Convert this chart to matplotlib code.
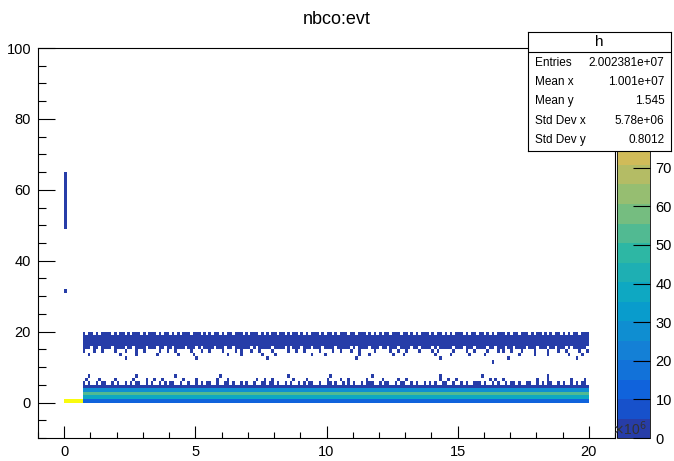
import numpy as np
import matplotlib
matplotlib.use("Agg")
import matplotlib.pyplot as plt
from matplotlib.colors import LinearSegmentedColormap, ListedColormap, BoundaryNorm
from matplotlib.cm import ScalarMappable
from matplotlib.ticker import MultipleLocator

plt.rcParams['font.family'] = ['Liberation Sans', 'DejaVu Sans']

# ---- histogram binning (x in units of 1e6 events, y = nbco) ----
X_MIN, X_MAX, N_XBINS = 0.0, 20.0, 200
Y_MIN, Y_MAX, N_YBINS = -10.0, 100.0, 110

# ---- bin contents ----
# early events (x < 0.7): all entries at nbco = 0
early_x_end = 0.7
early_row = 0
early_value = 101

# main band, x from 0.7 to 20: nbco rows and their counts
band_a_rows = [0, 1, 2, 3, 4]
band_a_values = [15, 40, 55, 30, 4]

# upper band, fully populated rows
band_b_rows = [16, 17, 18]
band_b_value = 4

# sparsely populated rows ('#' = filled bin, one char per x bin)
sparse_rows = {
    19: "......." "#.##.#.###" "#.#.##.#.#" "##.#.###.#" ".##.#.#.##" "#.###.#.#." "##.#.##.##"
        "#.#.###.#." "#.##.##.#." "##.#.#.###" ".#.##.#.##" "#.##.###.#" ".#.#.##.##" "#.##.#.#.#"
        "##.#.##.#." "#.###.#.##" ".##.#.#.##" "#.#.##.###" ".#.##.#.#." "##.#.#.##." "###",
    15: "......." "###.##.###" "#.####.##." "####.###.#" "#.##.####." "###.#.####" ".###.##.##"
        "####.#.###" "##.####.#." "###.###.##" "#.####.###" "##.#.####." "###.##.###" ".####.##.#"
        "###.#.####" "#.###.###." "####.##.##" "#.##.####." "###.###.##" ".###.#.###" "##.",
    14: "......." "#...#..#.." "..#...#..." "#..#.....#" "..#..#...." ".#...#..#." "...#....#."
        "#...#..#.." "..#.....#." ".#..#....." "#....#..#." "..#..#...." ".#.....#.." "#..#....#."
        "...#.#...." ".#....#..#" "....#...#." "#..#...#.." "..#....#.." ".#..#....#" "..#",
    13: "......." "..#......." "....#....." "#.......#." "......#..." "..#......." ".....#...."
        "#.......#." "...#......" ".......#.." "..#......." ".....#...#" "........#." "..#......."
        "....#....." "#......#.." "...#......" "......#..." "..#....#.." ".....#...." "#..",
    12: "......." ".........." "......#..." ".........." ".........." "...#......" ".........."
        ".........." "#........." ".........." ".........." "....#....." ".........." ".........."
        "......#..." ".........." ".........." "..#......." ".........." "........#." "...",
    11: "......." ".........." ".........." ".........." ".........." ".........." ".........."
        ".........." ".........." ".........." ".........." ".........." ".........." ".........."
        ".........." ".........." "......#..." ".........." ".........." ".........." "...",
    7:  "......." "..#......." ".........." "#........." ".....#...." ".........." "..#......."
        ".........." "........#." ".........." "....#....." ".........." "#........." ".........."
        "......#..." ".........." "..#......." ".........." ".......#.." ".........." "...",
    6:  "......." ".#....#..." "..#......#" "....#..#.." "#.......#." "...#......" ".#...#...."
        "......#..#" "..#......." "#....#...." "...#....#." ".#......#." "....#....." "#..#......"
        "......#..#" "..#......." ".....#.#.." "#........." "...#...#.." "......#..." ".#.",
    5:  "......." "#.#..#.##." ".#.#..#.#." "##..#.#..#" ".#.##..#.." "#..#.#.##." ".#..##.#.."
        "#.#..#..##" ".##.#..#.#" "..#.#.##.." "#..##.#..#" ".#.#..#.##" "#..#.##..#" ".##..#.#.."
        "#.#.#..##." ".#..#.#..#" "##.#..#.#." ".#.##.#..#" "#..#.#.##." ".#.#..#.#." "##.",
}
sparse_value = 1

# isolated entries in the first x bin
first_bin_rows = list(range(49, 65)) + [31]
first_bin_value = 1

# palette labels left visible beside the statistics box
palette_ticks = [0, 10, 20, 30, 40, 50, 60, 70]

# ---- fill the 2D array ----
x_edges = np.linspace(X_MIN, X_MAX, N_XBINS + 1)
y_edges = np.linspace(Y_MIN, Y_MAX, N_YBINS + 1)
x_centers = 0.5 * (x_edges[:-1] + x_edges[1:])
counts = np.zeros((N_YBINS, N_XBINS))


def yrow(v):
    return int(round(v - Y_MIN))


early = x_centers < early_x_end
counts[yrow(early_row), early] = early_value
for r, v in zip(band_a_rows, band_a_values):
    counts[yrow(r), ~early] = v
for r in band_b_rows:
    counts[yrow(r), ~early] = band_b_value
for r, pattern in sparse_rows.items():
    pat = pattern.ljust(N_XBINS, ".")[:N_XBINS]
    filled = np.array([c == "#" for c in pat])
    counts[yrow(r), filled] = sparse_value
for r in first_bin_rows:
    counts[yrow(r), 0] = first_bin_value

# ---- kBird palette with 20 discrete levels ----
bird_stops = [0.0, 0.125, 0.25, 0.375, 0.5, 0.625, 0.75, 0.875, 1.0]
bird_r = [0.2082, 0.0592, 0.0780, 0.0232, 0.1802, 0.5301, 0.8186, 0.9956, 0.9764]
bird_g = [0.1664, 0.3599, 0.5041, 0.6419, 0.7178, 0.7492, 0.7328, 0.7862, 0.9832]
bird_b = [0.5293, 0.8684, 0.8385, 0.7914, 0.6425, 0.4662, 0.3499, 0.1968, 0.0539]
bird = LinearSegmentedColormap.from_list(
    "bird", list(zip(bird_stops, zip(bird_r, bird_g, bird_b))))
N_LEVELS = 20
Z_MAX = float(counts.max())
level_cmap = ListedColormap([bird((i + 0.99) / N_LEVELS) for i in range(N_LEVELS)])
norm = BoundaryNorm(np.linspace(0, Z_MAX, N_LEVELS + 1), N_LEVELS)

# ---- figure ----
W, H = 674, 461
fig = plt.figure(figsize=(W / 100, H / 100), dpi=100)
fig.patch.set_facecolor("white")


def box(l, t, r, b):
    return [l / W, (H - b) / H, (r - l) / W, (b - t) / H]


ax = fig.add_axes(box(38, 48, 615, 438))
ax.pcolormesh(x_edges, y_edges, np.ma.masked_equal(counts, 0),
              cmap=level_cmap, norm=norm, shading="flat")
ax.set_xlim(-1, 21)
ax.set_ylim(-10, 100)
ax.xaxis.set_major_locator(MultipleLocator(5))
ax.xaxis.set_minor_locator(MultipleLocator(1))
ax.yaxis.set_major_locator(MultipleLocator(20))
ax.yaxis.set_minor_locator(MultipleLocator(5))
ax.tick_params(axis="x", which="major", direction="in", length=8.6, width=0.8,
               labelsize=10.5, pad=5)
ax.tick_params(axis="x", which="minor", direction="in", length=4.3, width=0.8)
ax.tick_params(axis="y", which="major", direction="in", length=12.2, width=0.8,
               labelsize=10.5, pad=5)
ax.tick_params(axis="y", which="minor", direction="in", length=6.1, width=0.8)
for s in ax.spines.values():
    s.set_linewidth(0.8)

# palette
cax = fig.add_axes(box(617, 48, 650, 438))
cb = fig.colorbar(ScalarMappable(norm=norm, cmap=level_cmap), cax=cax)
cb.set_ticks(palette_ticks)
cb.outline.set_linewidth(0.6)
cax.tick_params(direction="in", length=12.2, width=0.8, labelsize=10.5, pad=4)
cax.minorticks_off()

# axis exponent
fig.text(612 / W, (H - 438) / H, r"$\times$10$^{6}$", ha="left", va="bottom",
         fontsize=10, color="#333333")

# title
fig.text(337 / W, (H - 19) / H, "nbco:evt", ha="center", va="center", fontsize=13)

# statistics box
sx = fig.add_axes(box(528, 32, 671, 151))
sx.set_xlim(0, 1)
sx.set_ylim(0, 1)
sx.set_xticks([])
sx.set_yticks([])
sx.set_facecolor("white")
for s in sx.spines.values():
    s.set_linewidth(0.8)
sx.axhline((151 - 52) / 119, color="black", lw=0.8)
sx.text(0.5, (151 - 42) / 119, "h", ha="center", va="center", fontsize=11)
stat_labels = ["Entries", "Mean x", "Mean y", "Std Dev x", "Std Dev y"]
stat_values = ["2.002381e+07", "1.001e+07", "1.545", "5.78e+06", "0.8012"]
stat_y = [63, 82, 101, 121, 140]
for lab, val, yy in zip(stat_labels, stat_values, stat_y):
    f = (151 - yy) / 119
    sx.text(0.05, f, lab, ha="left", va="center", fontsize=8.5)
    sx.text(0.955, f, val, ha="right", va="center", fontsize=8.5)

fig.savefig("out.png", dpi=100, facecolor="white")
